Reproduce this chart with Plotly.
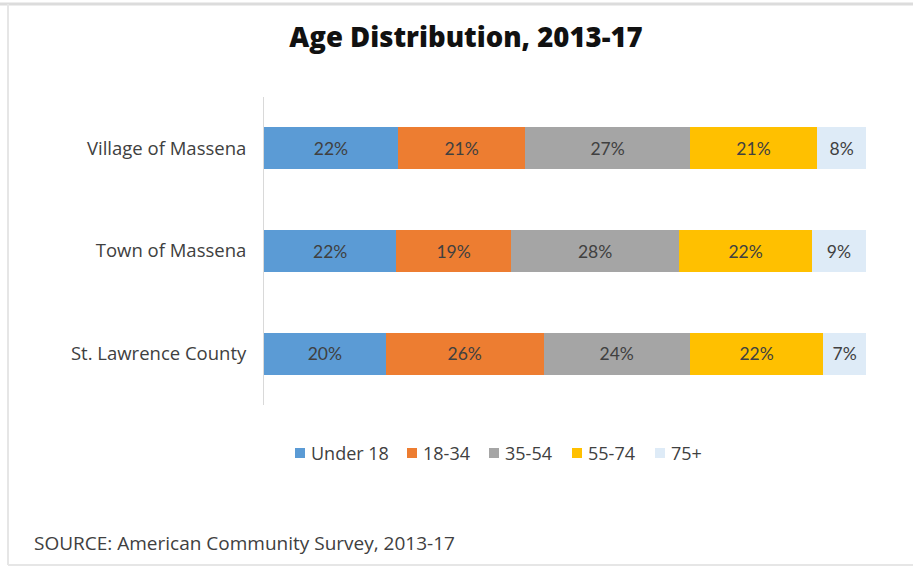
import plotly.graph_objects as go

# ---- data ----
places = ["St. Lawrence County", "Town of Massena", "Village of Massena"]
age_groups = ["Under 18", "18-34", "35-54", "55-74", "75+"]
under_18 = [20, 22, 22]
age_18_34 = [26, 19, 21]
age_35_54 = [24, 28, 27]
age_55_74 = [22, 22, 21]
age_75_plus = [7, 9, 8]
series = [under_18, age_18_34, age_35_54, age_55_74, age_75_plus]
colors = ["#5B9BD5", "#ED7D31", "#A5A5A5", "#FFC000", "#DEEBF7"]

W, H = 913, 571
L, R, T, B = 264, 866, 97, 405
LEGEND_X = [295, 407, 489, 572, 655]   # legend marker left edges (px)
LEGEND_Y = 453


def px_x(p):
    return (p - L) / (R - L)


def px_y(p):
    return (B - p) / (B - T)


fig = go.Figure()
for name, vals, col in zip(age_groups, series, colors):
    fig.add_trace(go.Bar(
        y=places, x=vals, name=name, orientation="h",
        marker=dict(color=col, line=dict(width=0)),
        text=[f"{v}%" for v in vals], texttemplate="%{text}",
        textposition="inside", insidetextanchor="middle",
        textfont=dict(family="Lato", size=17.5, color="#404040"),
        constraintext="none", showlegend=False,
    ))

shapes = [
    dict(type="line", xref="paper", yref="paper", x0=px_x(0), x1=px_x(W),
         y0=px_y(4), y1=px_y(4), line=dict(color="#DCDCDC", width=3)),
    dict(type="line", xref="paper", yref="paper", x0=px_x(8), x1=px_x(8),
         y0=px_y(4), y1=px_y(565), line=dict(color="#E6E6E6", width=2)),
    dict(type="line", xref="paper", yref="paper", x0=px_x(8), x1=px_x(W),
         y0=px_y(565), y1=px_y(565), line=dict(color="#E6E6E6", width=2)),
]
annotations = [dict(text="SOURCE: American Community Survey, 2013-17", xref="paper",
                    yref="paper", x=px_x(32), y=px_y(543), xanchor="left",
                    yanchor="middle", showarrow=False,
                    font=dict(family="Open Sans", size=19, color="#404040"))]

# legend (custom, to match compact marker/text spacing)
for name, col, lx in zip(age_groups, colors, LEGEND_X):
    shapes.append(dict(type="rect", xref="paper", yref="paper",
                       x0=px_x(lx), x1=px_x(lx + 10),
                       y0=px_y(LEGEND_Y + 5), y1=px_y(LEGEND_Y - 5),
                       fillcolor=col, line=dict(width=0)))
    annotations.append(dict(text=name, xref="paper", yref="paper",
                            x=px_x(lx + 14), y=px_y(LEGEND_Y), xanchor="left",
                            yanchor="middle", showarrow=False,
                            font=dict(family="Open Sans", size=18, color="#404040")))

fig.update_layout(
    width=W, height=H,
    margin=dict(l=L, r=W - R, t=T, b=H - B),
    barmode="stack", barnorm="percent", bargap=0.59,
    paper_bgcolor="white", plot_bgcolor="white",
    title=dict(text="Age Distribution, 2013-17", x=466 / W, xanchor="center",
               y=1 - 37 / H, yanchor="middle",
               font=dict(family="Open Sans", size=27.5, weight=800, color="#111111")),
    xaxis=dict(visible=False, range=[0, 100], fixedrange=True),
    yaxis=dict(showline=True, linecolor="#D9D9D9", linewidth=1, showgrid=False,
               ticks="", ticklabelstandoff=13, zeroline=False,
               tickfont=dict(family="Open Sans", size=18.5, color="#404040")),
    shapes=shapes,
    annotations=annotations,
    showlegend=False,
)

fig.write_html("out.html")
